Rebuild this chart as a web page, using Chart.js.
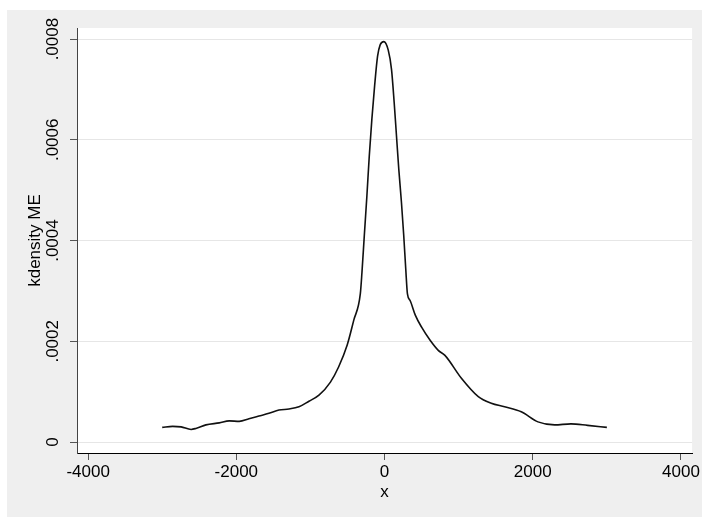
<!DOCTYPE html>
<html>
<head>
<meta charset="utf-8">
<script src="https://cdn.jsdelivr.net/npm/chart.js@4"></script>
<style>
  body { margin: 0; background: #fff; }
  canvas { display: block; }
</style>
</head>
<body>
<canvas id="kd" width="702" height="517"></canvas>
<script>
"use strict";

// density estimate
var xVals = [-3000, -2860, -2745, -2610, -2545, -2410, -2230, -2095, -1960, -1830,
  -1695, -1560, -1425, -1290, -1155, -1020, -885, -730, -620, -505,
  -415, -327, -305, -273, -238, -206, -171, -134, -94, -58,
  -10, 50, 94, 130, 161, 192, 228, 259, 286, 309,
  345, 415, 500, 615, 725, 815, 1040, 1265, 1440, 1620,
  1845, 2070, 2295, 2515, 2740, 3000];
var densVals = [0.000029, 0.000031, 0.000030, 0.000025, 0.000027, 0.000034, 0.000038, 0.000042, 0.000041, 0.000046,
  0.0000515, 0.000057, 0.0000635, 0.0000655, 0.000070, 0.000081, 0.000093, 0.000119, 0.000149, 0.000192,
  0.000242, 0.000294, 0.000336, 0.000410, 0.000489, 0.000568, 0.000641, 0.000707, 0.000766, 0.000789,
  0.000795, 0.000778, 0.000740, 0.000674, 0.000608, 0.000542, 0.000476, 0.000410, 0.000344, 0.000294,
  0.000281, 0.000252, 0.000228, 0.000202, 0.000182, 0.000172, 0.000126, 0.000090, 0.000077, 0.000070,
  0.000060, 0.000040, 0.000034, 0.000036, 0.000033, 0.000029];
var xTicks = [-4000, -2000, 0, 2000, 4000];
var yTicks = [0, 0.0002, 0.0004, 0.0006, 0.0008];

var points = new Array();
for (var i = 0; i < xVals.length; i++) {
    points.push({x: xVals[i], y: densVals[i]});
}

function fmtY(v) {
    if (v === 0) return "0";
    return v.toFixed(4).replace(/^0/, "");
}

var backdrop = {
    id: "backdrop",
    beforeDraw: function(chart) {
        var ctx = chart.ctx;
        var a = chart.chartArea;
        ctx.save();
        ctx.fillStyle = "#efefef";
        ctx.fillRect(7, 10, chart.width - 7, chart.height - 10);
        ctx.fillStyle = "#ffffff";
        ctx.fillRect(a.left, a.top, a.right - a.left, a.bottom - a.top);
        ctx.restore();
    }
};

Chart.defaults.font.family = "'Liberation Sans', Arial, sans-serif";
Chart.defaults.color = "#000";

new Chart(document.getElementById("kd"), {
    type: "line",
    data: {
        datasets: [{
            data: points,
            borderColor: "#111111",
            borderWidth: 1.6,
            pointRadius: 0,
            fill: false,
            cubicInterpolationMode: "monotone"
        }]
    },
    options: {
        responsive: false,
        animation: false,
        devicePixelRatio: 1,
        layout: {
            padding: {left: 0, top: 28, right: 7, bottom: 0}
        },
        plugins: {
            legend: {display: false},
            tooltip: {enabled: false}
        },
        scales: {
            x: {
                type: "linear",
                min: -4150,
                max: 4150,
                afterBuildTicks: function(scale) {
                    scale.ticks = xTicks.map(function(v) { return {value: v}; });
                },
                afterFit: function(scale) { scale.height = 64; },
                ticks: {
                    font: {size: 17},
                    padding: 2,
                    maxRotation: 0,
                    callback: function(v) { return String(v); }
                },
                grid: {
                    drawOnChartArea: false,
                    drawTicks: true,
                    tickLength: 7,
                    tickColor: "#555"
                },
                border: {color: "#000", width: 1},
                title: {
                    display: true,
                    text: "x",
                    font: {size: 17},
                    padding: {top: 0, bottom: 14}
                }
            },
            y: {
                type: "linear",
                min: -0.0000218,
                max: 0.000822,
                afterBuildTicks: function(scale) {
                    scale.ticks = yTicks.map(function(v) { return {value: v}; });
                },
                afterFit: function(scale) { scale.width = 77; },
                ticks: {
                    font: {size: 17},
                    minRotation: 90,
                    maxRotation: 90,
                    crossAlign: "center",
                    padding: -5,
                    callback: function(v) { return fmtY(v); }
                },
                grid: {
                    color: "#e6e6e6",
                    lineWidth: 1,
                    tickLength: 7,
                    tickColor: "#555"
                },
                border: {color: "#444", width: 1},
                title: {
                    display: true,
                    text: "kdensity ME",
                    font: {size: 17},
                    padding: {top: 25, bottom: 0}
                }
            }
        }
    },
    plugins: [backdrop]
});
</script>
</body>
</html>
